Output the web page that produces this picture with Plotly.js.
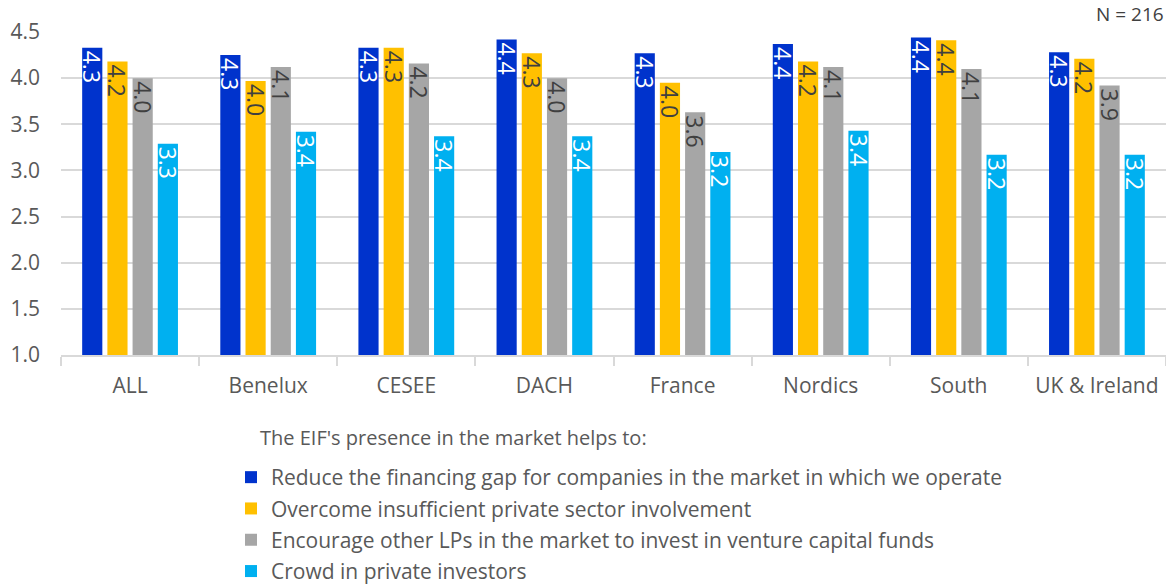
<!DOCTYPE html>
<html>
<head>
<meta charset="utf-8">
<script src="https://cdn.plot.ly/plotly-3.0.1.min.js"></script>
<style>html,body{margin:0;padding:0;background:#fff;}#chart{width:1166px;height:586px;}</style>
</head>
<body>
<div id="chart"></div>
<script>
const categories = ["ALL", "Benelux", "CESEE", "DACH", "France", "Nordics", "South", "UK & Ireland"];
const seriesNames = [
  "Reduce the financing gap for companies in the market in which we operate",
  "Overcome insufficient private sector involvement",
  "Encourage other LPs in the market to invest in venture capital funds",
  "Crowd in private investors"
];
const reduceGap = [4.33, 4.25, 4.33, 4.42, 4.27, 4.37, 4.44, 4.28];
const overcome = [4.18, 3.97, 4.33, 4.27, 3.95, 4.18, 4.41, 4.21];
const encourage = [4.00, 4.12, 4.16, 4.00, 3.63, 4.12, 4.10, 3.92];
const crowdIn = [3.29, 3.42, 3.37, 3.37, 3.20, 3.43, 3.17, 3.17];
const yTicks = [1.0, 1.5, 2.0, 2.5, 3.0, 3.5, 4.0, 4.5];
const sampleNote = "N = 216";
const legendTitle = "The EIF's presence in the market helps to:";

const colors = ["#0033CC", "#FFC000", "#A6A6A6", "#00B0F0"];
const textColors = ["#ffffff", "#404040", "#404040", "#ffffff"];
const allValues = [reduceGap, overcome, encourage, crowdIn];
const FONT = "Open Sans, Lato, sans-serif";

const traces = allValues.map((vals, i) => ({
  type: "bar",
  name: seriesNames[i],
  x: categories,
  y: vals,
  marker: {color: colors[i]},
  text: vals.map(v => v.toFixed(1)),
  textposition: "inside",
  insidetextanchor: "end",
  textangle: 90,
  constraintext: "none",
  insidetextfont: {family: FONT, size: 23, color: textColors[i]},
  hoverinfo: "x+y+name",
  legendgroup: "g" + i
}));

const layout = {
  width: 1166,
  height: 586,
  margin: {l: 61, r: 0, t: 32, b: 231, autoexpand: false},
  paper_bgcolor: "#ffffff",
  plot_bgcolor: "#ffffff",
  font: {family: FONT, color: "#595959", size: 19},
  barmode: "group",
  bargap: 0.27,
  bargroupgap: 0.2,
  showlegend: true,
  legend: {
    xref: "container", yref: "container",
    x: 231 / 1166, y: 1 - 457 / 586, xanchor: "left", yanchor: "top",
    orientation: "v",
    font: {family: FONT, size: 21, color: "#595959"},
    tracegroupgap: 1,
    itemwidth: 30,
    bgcolor: "rgba(0,0,0,0)"
  },
  xaxis: {
    type: "category",
    showline: true,
    linecolor: "#d9d9d9",
    linewidth: 2,
    ticks: "outside",
    tickson: "boundaries",
    ticklen: 9,
    tickwidth: 2,
    tickcolor: "#d9d9d9",
    showgrid: false,
    ticklabelstandoff: 11,
    tickfont: {family: FONT, size: 21, color: "#595959"},
    automargin: false
  },
  yaxis: {
    range: [1, 4.5],
    tickvals: yTicks,
    ticktext: yTicks.map(v => v.toFixed(1)),
    showgrid: true,
    gridcolor: "#d9d9d9",
    gridwidth: 2,
    zeroline: false,
    showline: false,
    ticks: "",
    ticklabelstandoff: 20,
    tickfont: {family: FONT, size: 21, color: "#595959"},
    automargin: false
  },
  annotations: [{
    text: sampleNote,
    xref: "paper", yref: "paper",
    x: 1, y: 1.0,
    xanchor: "right", yanchor: "bottom",
    yshift: 3,
    showarrow: false,
    font: {family: FONT, size: 19, color: "#404040"}
  }, {
    text: legendTitle,
    xref: "paper", yref: "paper",
    x: (258 - 61) / 1105, y: -(437 - 355) / 323,
    xanchor: "left", yanchor: "middle",
    showarrow: false,
    font: {family: FONT, size: 20, color: "#595959"}
  }]
};

Plotly.newPlot("chart", traces, layout, {displayModeBar: false});
</script>
</body>
</html>
